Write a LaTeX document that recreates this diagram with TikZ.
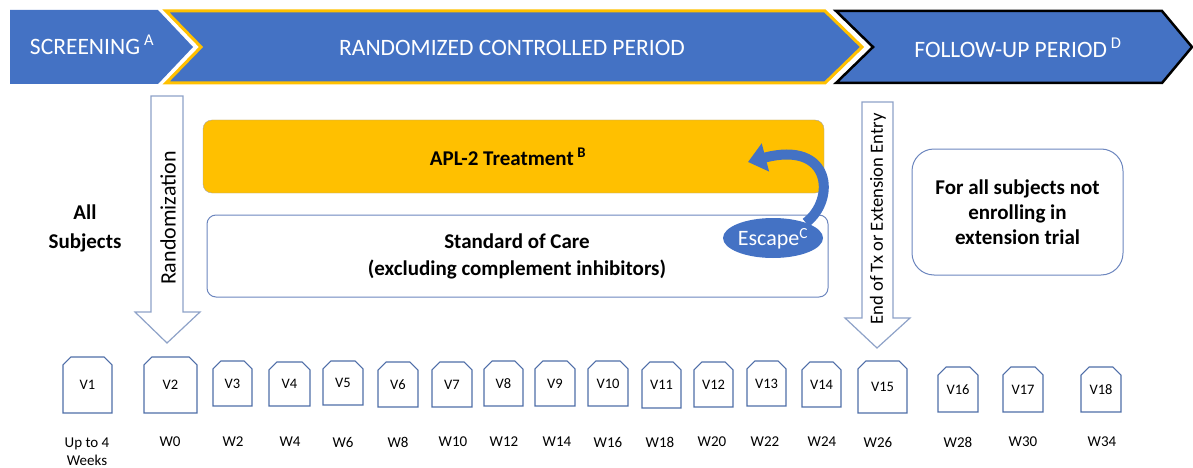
\documentclass[tikz,border=0pt]{standalone}
\usepackage{fontspec}
\setmainfont{Carlito}
\usetikzlibrary{arrows.meta,shapes.geometric,shapes.misc}

\definecolor{studyblue}{HTML}{4472C4}
\definecolor{studygold}{HTML}{FFC000}
\definecolor{visitline}{HTML}{4F6EA8}
\definecolor{boxline}{HTML}{6C86BE}
\definecolor{bigarrow}{HTML}{8EA2C8}

\begin{document}
\begin{tikzpicture}[x=1pt, y=-1pt,
	phase/.style={text=white, font=\fontsize{23.5}{28}\selectfont},
	armbox/.style={rounded corners=9pt, minimum width=621pt, align=center},
	armtext/.style={font=\bfseries\fontsize{21}{26}\selectfont, align=center},
	visit/.style={draw=visitline, line width=1.1pt, fill=white, chamfered rectangle,
		chamfered rectangle corners={north west, north east}, chamfered rectangle xsep=8pt,
		inner sep=0pt, font=\fontsize{14.5}{17}\selectfont},
	week/.style={font=\fontsize{15}{18}\selectfont, align=center},
	escarrow/.style={draw=studyblue, line width=10pt, -{Triangle[length=18pt, width=28pt]}}
]
\useasboundingbox (0,0) rectangle (1193,468);

% phase banners
\fill[studyblue] (10,10) -- (158,10) -- (193,47) -- (158,84) -- (10,84) -- cycle;
\filldraw[fill=studyblue, draw=black, line width=2.5pt] (836,11) -- (1162,11) -- (1192,47) -- (1162,83) -- (836,83) -- (873,47) -- cycle;
\filldraw[fill=studyblue, draw=studygold, line width=3pt] (166,11) -- (825,11) -- (862,47) -- (825,83) -- (166,83) -- (201,47) -- cycle;
\node[phase] (screen) at (92,45) {SCREENING\,\textsuperscript{A}};
\node[phase] (rcp) at (512,48) {RANDOMIZED CONTROLLED PERIOD};
\node[phase] (fup) at (1018,48) {FOLLOW-UP PERIOD\,\textsuperscript{D}};

% vertical arrows
\filldraw[fill=white, draw=bigarrow, line width=1.2pt] (151,96) -- (183,96) -- (183,312) -- (200,312) -- (167,343) -- (135,312) -- (151,312) -- cycle;
\node[rotate=90, font=\fontsize{22}{26}\selectfont] (rand) at (168,218) {Randomization};
\filldraw[fill=white, draw=bigarrow, line width=1.2pt] (862,102) -- (893,102) -- (893,318) -- (910,318) -- (877,348) -- (845,318) -- (862,318) -- cycle;
\node[rotate=90, font=\fontsize{18.6}{22}\selectfont] (endtx) at (878,219) {End of Tx or Extension Entry};

\node[armtext, font=\bfseries\fontsize{21}{29}\selectfont] (all) at (85,228) {All\\Subjects};

% treatment arms
\node[armbox, draw=gray!70, fill=studygold, minimum height=73pt] (apl) at (513.5,156.5) {};
\node[armtext] (apltext) at (508,157) {APL-2 Treatment\,\textsuperscript{B}};
\node[armbox, draw=boxline, line width=1pt, minimum height=82pt] (soc) at (517.5,256) {};
\node[armtext, font=\bfseries\fontsize{21}{27}\selectfont] (soctext) at (517,256) {Standard of Care\\(excluding complement inhibitors)};
\node[draw=boxline, line width=1pt, rounded corners=22pt, minimum width=211pt, minimum height=126pt,
	armtext, font=\bfseries\fontsize{21}{25}\selectfont] (follow) at (1017.5,212) {For all subjects not\\enrolling in\\extension trial};

% escape to active treatment
\node[ellipse, fill=studyblue, minimum width=100pt, minimum height=40pt, inner sep=0pt] (escape) at (773,238) {};
\coordinate (esctip) at (748,162);
\draw[escarrow] (escape.25) .. controls (836,200) and (832,140) .. (esctip);
\node[text=white, font=\fontsize{22}{26}\selectfont] (esctext) at (773,239) {Escape\textsuperscript{C}};

% study visits
\node[visit, minimum width=49pt, minimum height=56pt] (v1) at (87.5,385) {V1};
\node[visit, minimum width=53pt, minimum height=56pt] (v2) at (170.5,385) {V2};
\node[visit, minimum width=39pt, minimum height=45pt] (v3) at (232.5,383.5) {V3};
\node[visit, minimum width=41pt, minimum height=44pt] (v4) at (289.5,384) {V4};
\node[visit, minimum width=40pt, minimum height=44pt] (v5) at (343,383) {V5};
\node[visit, minimum width=40pt, minimum height=45pt] (v6) at (398,384.5) {V6};
\node[visit, minimum width=40pt, minimum height=45pt] (v7) at (452,384.5) {V7};
\node[visit, minimum width=39pt, minimum height=45pt] (v8) at (503.5,383.5) {V8};
\node[visit, minimum width=40pt, minimum height=45pt] (v9) at (555,383.5) {V9};
\node[visit, minimum width=40pt, minimum height=45pt] (v10) at (608,383.5) {V10};
\node[visit, minimum width=39pt, minimum height=46pt] (v11) at (661.5,385) {V11};
\node[visit, minimum width=39pt, minimum height=45pt] (v12) at (713.5,384.5) {V12};
\node[visit, minimum width=39pt, minimum height=45pt] (v13) at (766.5,383.5) {V13};
\node[visit, minimum width=39pt, minimum height=45pt] (v14) at (821.5,384.5) {V14};
\node[visit, minimum width=49pt, minimum height=52pt] (v15) at (882.5,387) {V15};
\node[visit, minimum width=40pt, minimum height=45pt] (v16) at (958,389.5) {V16};
\node[visit, minimum width=40pt, minimum height=45pt] (v17) at (1023,389.5) {V17};
\node[visit, minimum width=40pt, minimum height=45pt] (v18) at (1101,389.5) {V18};

% study weeks
\node[week] (w1) at (87,452) {Up to 4\\Weeks};
\node[week] (w2) at (170,442) {W0};
\node[week] (w3) at (233,442) {W2};
\node[week] (w4) at (290,442) {W4};
\node[week] (w5) at (343,442) {W6};
\node[week] (w6) at (398,442) {W8};
\node[week] (w7) at (453,442) {W10};
\node[week] (w8) at (504,442) {W12};
\node[week] (w9) at (557,442) {W14};
\node[week] (w10) at (608,442) {W16};
\node[week] (w11) at (660,442) {W18};
\node[week] (w12) at (712,442) {W20};
\node[week] (w13) at (765,442) {W22};
\node[week] (w14) at (822,442) {W24};
\node[week] (w15) at (878,442) {W26};
\node[week] (w16) at (958,442) {W28};
\node[week] (w17) at (1023,442) {W30};
\node[week] (w18) at (1102,442) {W34};
\end{tikzpicture}
\end{document}
